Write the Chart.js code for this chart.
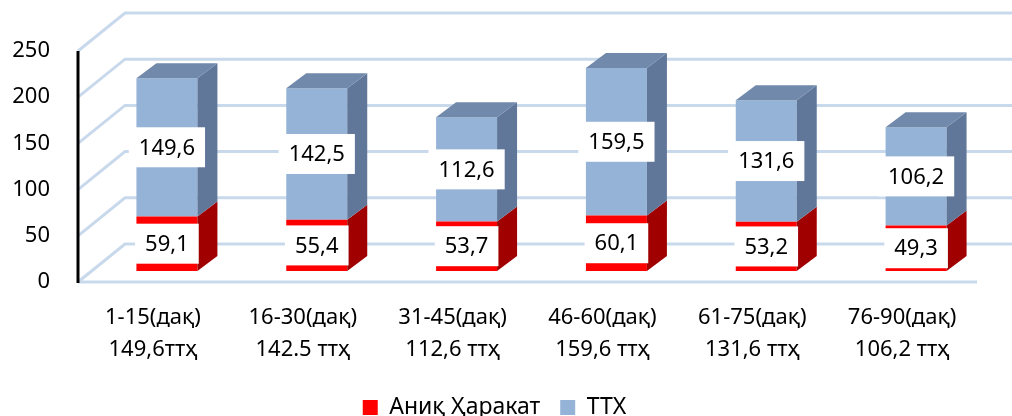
<!DOCTYPE html>
<html>
<head>
<meta charset="utf-8">
<script src="https://cdn.jsdelivr.net/npm/chart.js@4.4.1/dist/chart.umd.min.js"></script>
<style>
  html, body { margin: 0; padding: 0; background: #fff; }
  #wrap { width: 1012px; height: 416px; }
</style>
</head>
<body>
<div id="wrap"><canvas id="chart"></canvas></div>
<script>
const categories = [
  ["1-15(дақ)", "149,6ттҳ"],
  ["16-30(дақ)", "142.5 ттҳ"],
  ["31-45(дақ)", "112,6 ттҳ"],
  ["46-60(дақ)", "159,6 ттҳ"],
  ["61-75(дақ)", "131,6 ттҳ"],
  ["76-90(дақ)", "106,2 ттҳ"]
];
const seriesNames = ["Аниқ Ҳаракат", "ТТХ"];
const actualValues = [59.1, 55.4, 53.7, 60.1, 53.2, 49.3];
const ttxValues = [149.6, 142.5, 112.6, 159.5, 131.6, 106.2];
const yTicks = [0, 50, 100, 150, 200, 250];

// oblique offsets used to fake the 3D look
const WALL = { dx: 47, dy: -38 };
const BAR_SHIFT = { dx: 14, dy: -11 };
const BAR_DEPTH = { dx: 20, dy: -15 };
const GRID_COLOR = "#c9d9ec";

Chart.defaults.font.family = "'Noto Sans', sans-serif";
Chart.defaults.font.size = 22;
Chart.defaults.color = "#000";

function fmt(v) {
  return v.toFixed(1).replace(".", ",");
}

const box3d = {
  id: "box3d",
  beforeDatasetsDraw(chart) {
    const { ctx, chartArea } = chart;
    const y = chart.scales.y;
    const y0 = y.getPixelForValue(0);
    ctx.save();
    ctx.strokeStyle = GRID_COLOR;
    ctx.lineWidth = 3;
    y.ticks.forEach(function(t) {
      const py = y.getPixelForValue(t.value);
      ctx.beginPath();
      ctx.moveTo(chartArea.left, py);
      ctx.lineTo(chartArea.left + WALL.dx, py + WALL.dy);
      ctx.lineTo(chart.width, py + WALL.dy);
      ctx.stroke();
    });
    ctx.beginPath();
    ctx.moveTo(chartArea.left, y0);
    ctx.lineTo(chartArea.right, y0);
    ctx.stroke();

    ctx.strokeStyle = "#000";
    ctx.beginPath();
    ctx.moveTo(chartArea.left, y.getPixelForValue(yTicks[yTicks.length - 1]));
    ctx.lineTo(chartArea.left, y0 + 1);
    ctx.stroke();
    ctx.restore();

    // bars are drawn on a plane set back a little from the axis
    ctx.save();
    ctx.translate(BAR_SHIFT.dx, BAR_SHIFT.dy);
  },
  afterDatasetsDraw(chart) {
    const ctx = chart.ctx;
    const last = chart.data.datasets.length - 1;
    chart.data.datasets.forEach(function(ds, i) {
      chart.getDatasetMeta(i).data.forEach(function(bar) {
        const p = bar.getProps(["x", "y", "base", "width"], true);
        const r = p.x + p.width / 2;
        const l = p.x - p.width / 2;
        ctx.fillStyle = ds.sideColor;
        ctx.beginPath();
        ctx.moveTo(r, p.y);
        ctx.lineTo(r + BAR_DEPTH.dx, p.y + BAR_DEPTH.dy);
        ctx.lineTo(r + BAR_DEPTH.dx, p.base + BAR_DEPTH.dy);
        ctx.lineTo(r, p.base);
        ctx.closePath();
        ctx.fill();
        if (i === last) {
          ctx.fillStyle = ds.topColor;
          ctx.beginPath();
          ctx.moveTo(l, p.y);
          ctx.lineTo(l + BAR_DEPTH.dx, p.y + BAR_DEPTH.dy);
          ctx.lineTo(r + BAR_DEPTH.dx, p.y + BAR_DEPTH.dy);
          ctx.lineTo(r, p.y);
          ctx.closePath();
          ctx.fill();
        }
      });
    });

    // value labels in white boxes
    ctx.font = "22px 'Noto Sans'";
    ctx.textAlign = "center";
    ctx.textBaseline = "middle";
    chart.data.datasets.forEach(function(ds, i) {
      chart.getDatasetMeta(i).data.forEach(function(bar, j) {
        const p = bar.getProps(["x", "y", "base"], true);
        const text = fmt(ds.data[j]);
        const w = ctx.measureText(text).width + 20;
        const h = 40;
        const cy = (p.y + p.base) / 2;
        ctx.fillStyle = "#fff";
        ctx.fillRect(p.x - w / 2, cy - h / 2, w, h);
        ctx.fillStyle = "#000";
        ctx.fillText(text, p.x, cy + 1);
      });
    });
    ctx.restore();
  }
};

new Chart(document.getElementById("chart"), {
  type: "bar",
  data: {
    labels: categories,
    datasets: [
      {
        label: seriesNames[0],
        data: actualValues,
        backgroundColor: "#ff0000",
        sideColor: "#a00000",
        borderWidth: 0,
        clip: false
      },
      {
        label: seriesNames[1],
        data: ttxValues,
        backgroundColor: "#95b3d7",
        sideColor: "#60779a",
        topColor: "#7189ab",
        borderWidth: 0,
        clip: false
      }
    ]
  },
  options: {
    responsive: true,
    maintainAspectRatio: false,
    animation: false,
    layout: { padding: { top: 51, left: 12, right: 35, bottom: -13 } },
    datasets: {
      bar: { categoryPercentage: 1, barPercentage: 0.407 }
    },
    scales: {
      x: {
        stacked: true,
        grid: { display: false, drawTicks: false },
        border: { display: false },
        ticks: { padding: 20, maxRotation: 0, autoSkip: false, font: { size: 22, lineHeight: 1.45 } },
        afterFit: function(scale) { scale.height = 94; }
      },
      y: {
        stacked: true,
        min: 0,
        max: 250,
        grid: { display: false, drawTicks: false },
        border: { display: false },
        ticks: { padding: 28, font: { size: 22 } },
        afterBuildTicks: function(scale) {
          scale.ticks = yTicks.map(function(v) { return { value: v }; });
        },
        afterFit: function(scale) { scale.width = 66; }
      }
    },
    plugins: {
      legend: {
        position: "bottom",
        labels: { boxWidth: 15, boxHeight: 15, padding: 20, font: { size: 23 } }
      },
      tooltip: { enabled: false }
    }
  },
  plugins: [box3d]
});
</script>
</body>
</html>
